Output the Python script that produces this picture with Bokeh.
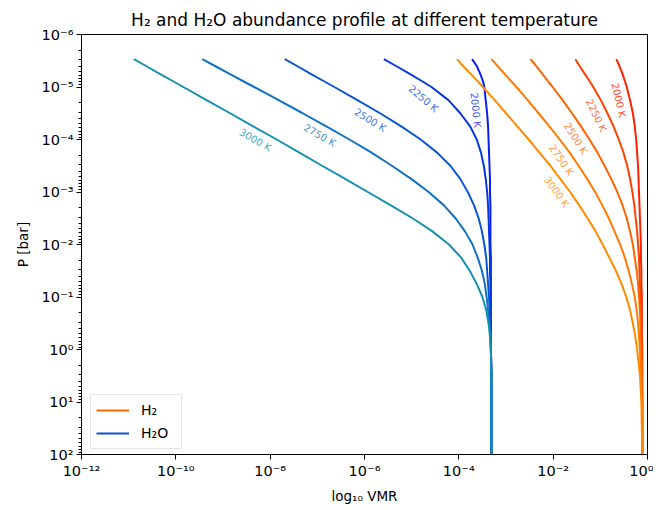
import numpy as np
from bokeh.plotting import figure
from bokeh.models import (Range1d, FixedTicker, CustomJSTickFormatter, Legend, LegendItem,
                          ColumnDataSource)
from bokeh.core.properties import value
from bokeh.embed import file_html
from bokeh.resources import INLINE

# ---------------- data ----------------
TEMPS = [2000, 2250, 2500, 2750, 3000]
LOG_P = [-5.53, -5.4, -5.25, -5.1, -5.0, -4.75, -4.5, -4.25, -4.0, -3.75, -3.5, -3.25, -3.0, -2.75,
         -2.5, -2.25, -2.0, -1.75, -1.5, -1.25, -1.0, -0.75, -0.5, -0.25, 0.0, 0.5, 1.0, 1.5, 2.0]

# log10 VMR of H2O
H2O_2000 = [-3.72, -3.62, -3.545, -3.485, -3.46, -3.43, -3.40, -3.38, -3.37, -3.36, -3.35, -3.34, -3.34, -3.33,
            -3.33, -3.33, -3.33, -3.32, -3.32, -3.32, -3.32, -3.32, -3.32, -3.32, -3.32, -3.31, -3.31, -3.31, -3.31]
H2O_2250 = [-5.59, -5.33, -5.04, -4.76, -4.58, -4.22, -3.97, -3.76, -3.62, -3.53, -3.47, -3.43, -3.40, -3.38,
            -3.37, -3.36, -3.35, -3.34, -3.34, -3.33, -3.33, -3.32, -3.32, -3.32, -3.32, -3.31, -3.31, -3.31, -3.31]
H2O_2500 = [-7.69, -7.43, -7.14, -6.84, -6.64, -6.15, -5.67, -5.22, -4.81, -4.46, -4.18, -3.97, -3.81, -3.68,
            -3.58, -3.51, -3.46, -3.42, -3.40, -3.38, -3.36, -3.35, -3.34, -3.33, -3.32, -3.31, -3.31, -3.31, -3.31]
H2O_2750 = [-9.44, -9.17, -8.86, -8.55, -8.34, -7.82, -7.31, -6.81, -6.32, -5.85, -5.42, -5.01, -4.64, -4.32,
            -4.07, -3.87, -3.71, -3.60, -3.51, -3.45, -3.41, -3.38, -3.35, -3.33, -3.32, -3.31, -3.31, -3.31, -3.31]
H2O_3000 = [-10.89, -10.63, -10.34, -10.04, -9.84, -9.35, -8.85, -8.36, -7.86, -7.38, -6.90, -6.41, -5.93, -5.45,
            -4.98, -4.56, -4.21, -3.95, -3.77, -3.62, -3.50, -3.42, -3.37, -3.34, -3.32, -3.31, -3.31, -3.31, -3.31]

# log10 VMR of H2
H2_2000 = [-0.66, -0.595, -0.53, -0.475, -0.44, -0.37, -0.31, -0.27, -0.24, -0.22, -0.20, -0.19, -0.18, -0.17,
           -0.16, -0.15, -0.14, -0.14, -0.13, -0.13, -0.12, -0.12, -0.12, -0.12, -0.11, -0.11, -0.11, -0.11, -0.11]
H2_2250 = [-1.53, -1.44, -1.33, -1.22, -1.15, -0.99, -0.85, -0.72, -0.61, -0.51, -0.43, -0.37, -0.32, -0.28,
           -0.25, -0.22, -0.20, -0.18, -0.17, -0.16, -0.15, -0.14, -0.13, -0.13, -0.12, -0.12, -0.11, -0.11, -0.11]
H2_2500 = [-2.48, -2.36, -2.23, -2.10, -2.01, -1.80, -1.60, -1.41, -1.23, -1.06, -0.91, -0.77, -0.64, -0.53,
           -0.44, -0.37, -0.31, -0.27, -0.23, -0.20, -0.18, -0.16, -0.15, -0.14, -0.13, -0.12, -0.11, -0.11, -0.11]
H2_2750 = [-3.31, -3.18, -3.03, -2.88, -2.78, -2.54, -2.31, -2.08, -1.86, -1.65, -1.46, -1.28, -1.11, -0.96,
           -0.82, -0.70, -0.58, -0.48, -0.40, -0.33, -0.27, -0.23, -0.20, -0.18, -0.16, -0.14, -0.12, -0.11, -0.11]
H2_3000 = [-4.04, -3.91, -3.75, -3.59, -3.49, -3.24, -3.00, -2.76, -2.52, -2.29, -2.06, -1.85, -1.64, -1.45,
           -1.27, -1.10, -0.95, -0.81, -0.67, -0.55, -0.45, -0.37, -0.31, -0.26, -0.22, -0.16, -0.13, -0.12, -0.11]

H2O_SERIES = [H2O_2000, H2O_2250, H2O_2500, H2O_2750, H2O_3000]
H2_SERIES = [H2_2000, H2_2250, H2_2500, H2_2750, H2_3000]

# pressure (log10 bar) at which each temperature label sits
H2O_LABEL_P = [-4.56, -4.78, -4.37, -4.08, -3.99]
H2_LABEL_P = [-4.75, -4.46, -4.02, -3.61, -3.00]
# perpendicular gap (px) between a label and its curve
H2O_LABEL_GAP = [11, 15, 11, 11, 11]
H2_LABEL_GAP = [11, 11, 11, 11, 11]

X_TICKS = [1e-12, 1e-10, 1e-8, 1e-6, 1e-4, 1e-2, 1e0]
Y_TICKS = [1e-6, 1e-5, 1e-4, 1e-3, 1e-2, 1e-1, 1e0, 1e1, 1e2]

# ---------------- styling ----------------
H2O_COLORS = ["#0a1ef0", "#0638e2", "#0a55d4", "#1072c4", "#1590b0"]
H2_COLORS = ["#ff2000", "#ff4200", "#ff6400", "#ff7a00", "#ff8c00"]
FONT = "DejaVu Sans"
FRAME_W, FRAME_H = 566, 420
X_DEC, Y_DEC = 12.0, 8.0
KX, KY = FRAME_W / X_DEC, FRAME_H / Y_DEC

p = figure(width=653, height=500, frame_width=FRAME_W, frame_height=FRAME_H,
           x_axis_type="log", y_axis_type="log",
           x_range=Range1d(1e-12, 1e0), y_range=Range1d(1e2, 1e-6),
           output_backend="svg", toolbar_location=None,
           min_border_left=81, min_border_right=6, min_border_top=34, min_border_bottom=46,
           title="H₂ and H₂O abundance profile at different temperature")

p.title.align = "center"
p.title.text_font = FONT
p.title.text_font_size = "17px"
p.title.text_font_style = "normal"
p.title.text_color = "black"

p.grid.visible = False
p.outline_line_color = "black"
p.outline_line_width = 1
p.background_fill_color = "white"
p.border_fill_color = "white"

sup = CustomJSTickFormatter(code="""
const m = {'-':'\u207b','0':'\u2070','1':'\u00b9','2':'\u00b2','3':'\u00b3','4':'\u2074',
           '5':'\u2075','6':'\u2076','7':'\u2077','8':'\u2078','9':'\u2079'};
const e = Math.round(Math.log10(tick));
return '10' + String(e).split('').map(c => m[c]).join('');
""")

p.xaxis.ticker = FixedTicker(ticks=X_TICKS, minor_ticks=[])
minor_y = [k * 10.0 ** e for e in range(-6, 2) for k in range(2, 10)]
p.yaxis.ticker = FixedTicker(ticks=Y_TICKS, minor_ticks=minor_y)
for ax in (p.xaxis[0], p.yaxis[0]):
    ax.formatter = sup
    ax.major_label_text_font = FONT
    ax.major_label_text_font_size = "14.5px"
    ax.major_label_text_color = "black"
    ax.axis_label_text_font = FONT
    ax.axis_label_text_font_size = "13.5px"
    ax.axis_label_text_font_style = "normal"
    ax.axis_label_text_color = "black"
    ax.axis_line_color = "black"
    ax.major_tick_line_color = "black"
    ax.minor_tick_line_color = "black"
    ax.major_tick_in = 0
    ax.major_tick_out = 5
    ax.minor_tick_in = 0
    ax.minor_tick_out = 3
    ax.major_label_standoff = 3
p.xaxis.axis_label = "log₁₀ VMR"
p.yaxis.axis_label = "P [bar]"
p.xaxis.axis_label_standoff = 6
p.yaxis.axis_label_standoff = 8

lp = np.array(LOG_P)
pres = 10.0 ** lp

def add_family(series, colors, label_p, gaps):
    lx, ly, la, lt, lc = [], [], [], [], []
    rends = []
    for T, vals, col, pl, gap in zip(TEMPS, series, colors, label_p, gaps):
        v = np.array(vals)
        rends.append(p.line(10.0 ** v, pres, line_color=col, line_width=2))
        xa = np.interp(pl, lp, v)
        s = (np.interp(pl + 0.08, lp, v) - np.interp(pl - 0.08, lp, v)) / 0.16
        ang = np.arctan2(-KY, KX * s)
        h = gap / abs(np.sin(ang))
        lx.append(10.0 ** (xa - h / KX))
        ly.append(10.0 ** pl)
        la.append(ang)
        lt.append(f"{T} K")
        lc.append(col)
    src = ColumnDataSource(dict(x=lx, y=ly, angle=la, text=lt, color=lc))
    p.text(x="x", y="y", text="text", angle="angle", source=src, text_color="color",
           text_alpha=0.8, text_font=value(FONT), text_font_size="10px",
           text_align="center", text_baseline="middle")
    return rends

r_h2o = add_family(H2O_SERIES, H2O_COLORS, H2O_LABEL_P, H2O_LABEL_GAP)
r_h2 = add_family(H2_SERIES, H2_COLORS, H2_LABEL_P, H2_LABEL_GAP)

legend = Legend(items=[LegendItem(label="H₂", renderers=[r_h2[2]]),
                       LegendItem(label="H₂O", renderers=[r_h2o[2]])],
                location=(9, 5))
legend.label_text_font = FONT
legend.label_text_font_size = "14px"
legend.label_text_color = "black"
legend.glyph_width = 33
legend.label_standoff = 12
legend.label_width = 35
legend.padding = 5
legend.spacing = 3
legend.margin = 0
legend.border_line_color = "#cccccc"
legend.background_fill_alpha = 0.8
p.add_layout(legend)

open("out.html", "w").write(file_html(p, INLINE))
